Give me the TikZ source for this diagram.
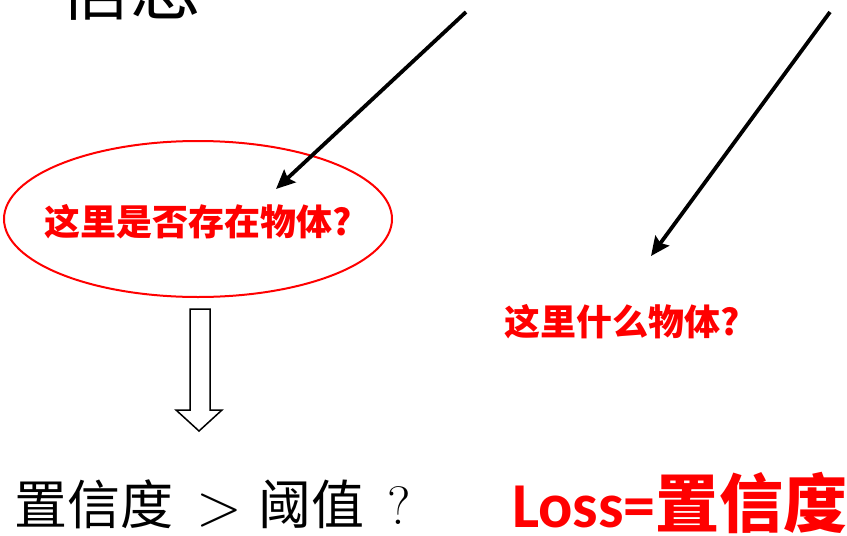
\documentclass[tikz,border=0pt]{standalone}
\usepackage{fontspec}
\usetikzlibrary{arrows.meta,shapes.geometric}
\newfontfamily\cjk{Noto Sans CJK SC}
\newfontfamily\carl{Carlito}
\definecolor{myred}{RGB}{255,0,0}
\tikzset{
  blackarrow/.style={line width=3.8pt,-{Stealth[length=19pt,width=17pt,inset=3pt]}},
  redlabel/.style={text=myred,font=\cjk\bfseries\fontsize{36}{40}\selectfont,inner sep=0pt},
  biglabel/.style={inner sep=0pt,anchor=base west},
}
\begin{document}
\begin{tikzpicture}[x=1pt,y=-1pt]
\useasboundingbox (0,0) rectangle (847,536);
\clip (0,0) rectangle (847,536);
% top-left cut-off title
\node[biglabel,font=\cjk\fontsize{71}{76}\selectfont] (info) at (59,14) {信息};
% ellipse with question
\node[draw=myred,line width=2pt,ellipse,minimum width=388pt,minimum height=156pt,inner sep=0pt] (ell) at (198,219) {};
\node[redlabel] (q1) at (198,222) {这里是否存在物体?};
% right question
\node[redlabel] (q2) at (622,322) {这里什么物体?};
% black arrows
\coordinate (a1s) at (466,12);
\coordinate (a1e) at (276,189);
\coordinate (a2s) at (830,12);
\coordinate (a2e) at (651,256);
\draw[blackarrow] (a1s) -- (a1e);
\draw[blackarrow] (a2s) -- (a2e);
% hollow down arrow
\draw[line width=1.5pt,line join=miter] (190,309) -- (210,309) -- (210,410) -- (222,410) -- (199,431) -- (176,410) -- (190,410) -- cycle;
% bottom texts
\node[biglabel,font=\cjk\fontsize{53}{58}\selectfont] (thr) at (14,524) {置信度};
\node[inner sep=0pt,anchor=base,font=\fontsize{60}{64}\selectfont] (gt) at (219.5,525) {>};
\node[biglabel,font=\cjk\fontsize{53}{58}\selectfont] (val) at (258,524) {阈值};
\node[inner sep=0pt,anchor=base,font=\fontsize{54}{58}\selectfont] (qm) at (399,524) {?};
\node[biglabel,text=myred] (loss) at (512,527) {\carl\bfseries\fontsize{64}{68}\selectfont Loss=\cjk\bfseries\fontsize{64}{68}\selectfont 置信度};
\end{tikzpicture}
\end{document}
